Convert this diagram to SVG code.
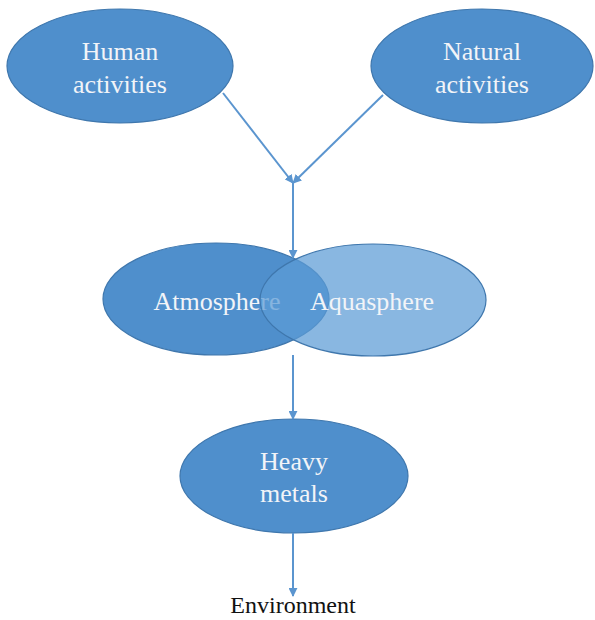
<svg xmlns="http://www.w3.org/2000/svg" width="595" height="620" viewBox="0 0 595 620">
  <style>
    .node { fill: #4f8fcc; stroke: #3f77ad; stroke-width: 1.2; }
    .node-light { fill: #5b9bd5; fill-opacity: 0.72; stroke: #3f77ad; stroke-width: 1.2; }
    .label { font-family: "Liberation Serif", "Times New Roman", serif; font-size: 26px; fill: #f2f4f8; text-anchor: middle; }
    .link { stroke: #5b95cf; stroke-width: 2; fill: none; }
    .outside { font-family: "Liberation Serif", "Times New Roman", serif; font-size: 24px; fill: #111; text-anchor: middle; }
  </style>
  <defs>
    <marker id="head" viewBox="0 0 10 10" refX="9" refY="5" markerWidth="4.5" markerHeight="4.5" orient="auto" markerUnits="strokeWidth">
      <path d="M0,0 L10,5 L0,10 z" fill="#5b95cf"/>
    </marker>
  </defs>
  <rect width="595" height="620" fill="#ffffff"/>

  <g id="human-activities">
    <ellipse class="node" cx="120" cy="66" rx="113" ry="57"/>
    <text class="label" x="120" y="60">Human</text>
    <text class="label" x="120" y="93">activities</text>
  </g>

  <g id="natural-activities">
    <ellipse class="node" cx="482" cy="66" rx="111" ry="57"/>
    <text class="label" x="482" y="60">Natural</text>
    <text class="label" x="482" y="93">activities</text>
  </g>

  <g id="atmosphere">
    <ellipse class="node" cx="216" cy="299" rx="113" ry="56"/>
    <text class="label" x="217" y="310">Atmosphere</text>
  </g>

  <g id="aquasphere">
    <ellipse class="node-light" cx="373" cy="300" rx="113" ry="56"/>
    <text class="label" x="372" y="310">Aquasphere</text>
  </g>

  <g id="heavy-metals">
    <ellipse class="node" cx="294" cy="476" rx="114" ry="57"/>
    <text class="label" x="294" y="470">Heavy</text>
    <text class="label" x="294" y="502">metals</text>
  </g>

  <g id="environment">
    <text class="outside" x="293" y="613">Environment</text>
  </g>

  <g id="connectors">
    <line class="link" x1="223" y1="93" x2="293" y2="183" marker-end="url(#head)"/>
    <line class="link" x1="383" y1="95" x2="293" y2="183" marker-end="url(#head)"/>
    <line class="link" x1="293" y1="183" x2="293" y2="258" marker-end="url(#head)"/>
    <line class="link" x1="293" y1="355" x2="293" y2="419" marker-end="url(#head)"/>
    <line class="link" x1="293" y1="533" x2="293" y2="596" marker-end="url(#head)"/>
  </g>
</svg>
